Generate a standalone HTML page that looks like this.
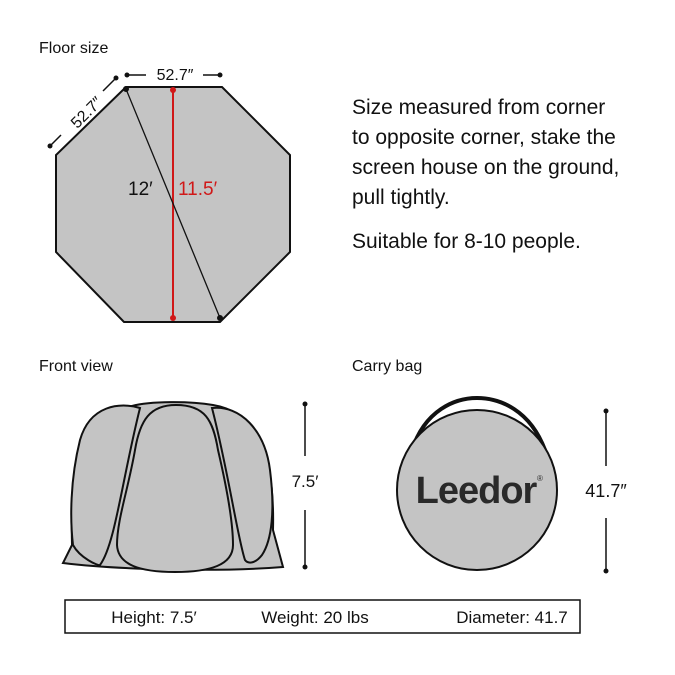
<!DOCTYPE html>
<html><head><style>
body{margin:0;background:#fff;}
svg{display:block;font-family:"Liberation Sans",sans-serif;}
</style></head><body>
<svg width="675" height="675" viewBox="0 0 675 675">
<rect width="675" height="675" fill="#fff"/>
<text x="39" y="53" font-size="16" fill="#111">Floor size</text>
<polygon points="126,87 222,87 290,155 290,252 220,322 124,322 56,252 56,155" fill="#c4c4c4" stroke="#111" stroke-width="2"/>
<line x1="173" y1="90" x2="173" y2="318" stroke="#d01818" stroke-width="2"/>
<circle cx="173" cy="90" r="3" fill="#d01818"/><circle cx="173" cy="318" r="3" fill="#d01818"/>
<line x1="126" y1="89" x2="220" y2="318" stroke="#111" stroke-width="1.3"/>
<circle cx="126" cy="89" r="3" fill="#111"/><circle cx="220" cy="318" r="3" fill="#111"/>
<text x="128" y="195" font-size="19" fill="#111">12′</text>
<text x="178" y="195" font-size="19" fill="#d01818">11.5′</text>
<circle cx="127" cy="75" r="2.5" fill="#111"/><circle cx="220" cy="75" r="2.5" fill="#111"/>
<line x1="127" y1="75" x2="146" y2="75" stroke="#111" stroke-width="1.5"/>
<line x1="203" y1="75" x2="220" y2="75" stroke="#111" stroke-width="1.5"/>
<text x="175" y="80" font-size="16" text-anchor="middle" fill="#111">52.7″</text>
<circle cx="50" cy="146" r="2.5" fill="#111"/><circle cx="116" cy="78" r="2.5" fill="#111"/>
<line x1="50" y1="146" x2="61" y2="135" stroke="#111" stroke-width="1.5"/>
<line x1="103" y1="91" x2="116" y2="78" stroke="#111" stroke-width="1.5"/>
<text x="0" y="0" font-size="16" text-anchor="middle" fill="#111" transform="translate(86,112) rotate(-45) translate(0,6)">52.7″</text>
<g font-size="21" fill="#111">
<text x="352" y="114">Size measured from corner</text>
<text x="352" y="144">to opposite corner, stake the</text>
<text x="352" y="174">screen house on the ground,</text>
<text x="352" y="204">pull tightly.</text>
<text x="352" y="248">Suitable for 8-10 people.</text>
</g>
<text x="39" y="371" font-size="16" fill="#111">Front view</text>
<text x="352" y="371" font-size="16" fill="#111">Carry bag</text>
<!-- tent -->
<path d="M132,406 C150,401 190,401 213,405 C255,412 275,450 273,530 L283,567 C220,572 120,570 63,563 L72,545 C70,470 80,420 132,406 Z" fill="#c4c4c4" stroke="#111" stroke-width="2"/>
<path d="M140,408 C120,402 90,405 80,440 C70,480 70,520 73,545 C80,558 98,566 100,565 C115,545 122,480 140,408 Z" fill="#c4c4c4" stroke="#111" stroke-width="2"/>
<path d="M212,408 C240,405 265,430 270,470 C275,510 272,540 262,555 C255,564 248,564 245,560 C238,540 228,470 212,408 Z" fill="#c4c4c4" stroke="#111" stroke-width="2"/>
<path d="M176,405 C150,405 140,420 135,450 C128,490 117,520 117,545 C118,565 140,572 175,572 C210,572 233,565 233,545 C233,520 225,480 218,450 C213,420 205,405 176,405 Z" fill="#c4c4c4" stroke="#111" stroke-width="2"/>
<circle cx="305" cy="404" r="2.5" fill="#111"/><circle cx="305" cy="567" r="2.5" fill="#111"/>
<line x1="305" y1="404" x2="305" y2="456" stroke="#111" stroke-width="1.5"/>
<line x1="305" y1="510" x2="305" y2="567" stroke="#111" stroke-width="1.5"/>
<text x="305" y="487" font-size="17" text-anchor="middle" fill="#111">7.5′</text>
<!-- bag -->
<path d="M412,450 C425,410 455,398 477,398 C500,398 530,410 545,450" fill="none" stroke="#111" stroke-width="4"/>
<circle cx="477" cy="490" r="80" fill="#c4c4c4" stroke="#111" stroke-width="2"/>
<text x="476" y="503" font-size="38" font-weight="bold" text-anchor="middle" fill="#2a2a2a" letter-spacing="-1">Leedor</text>
<text x="537" y="481" font-size="8" fill="#2a2a2a">®</text>
<circle cx="606" cy="411" r="2.5" fill="#111"/><circle cx="606" cy="571" r="2.5" fill="#111"/>
<line x1="606" y1="411" x2="606" y2="466" stroke="#111" stroke-width="1.5"/>
<line x1="606" y1="518" x2="606" y2="571" stroke="#111" stroke-width="1.5"/>
<text x="606" y="497" font-size="18" text-anchor="middle" fill="#111">41.7″</text>
<rect x="65" y="600" width="515" height="33" fill="none" stroke="#111" stroke-width="1.5"/>
<g font-size="17" fill="#111" text-anchor="middle">
<text x="154" y="623">Height: 7.5′</text>
<text x="315" y="623">Weight: 20 lbs</text>
<text x="512" y="623">Diameter: 41.7</text>
</g>
</svg>
</body></html>
